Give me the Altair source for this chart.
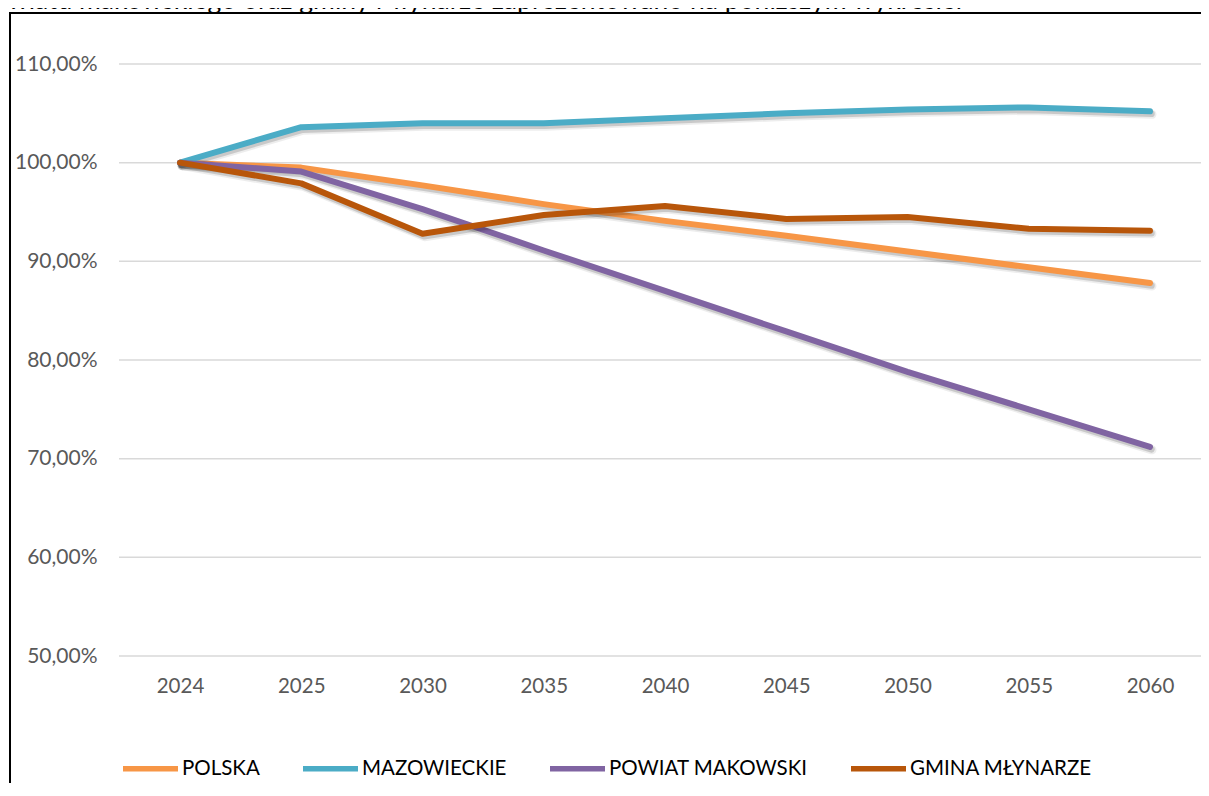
import altair as alt
import pandas as pd

years = ["2024", "2025", "2030", "2035", "2040", "2045", "2050", "2055", "2060"]
series_names = ["POLSKA", "MAZOWIECKIE", "POWIAT MAKOWSKI", "GMINA MŁYNARZE"]
polska = [100.0, 99.5, 97.7, 95.8, 94.1, 92.6, 91.0, 89.4, 87.8]
mazowieckie = [100.0, 103.6, 104.0, 104.0, 104.5, 105.0, 105.4, 105.6, 105.2]
powiat = [100.0, 99.1, 95.3, 91.1, 87.0, 82.9, 78.8, 75.0, 71.2]
gmina = [100.0, 97.9, 92.8, 94.7, 95.6, 94.3, 94.5, 93.3, 93.1]
colors = ["#F79646", "#4BACC6", "#8064A2", "#B8560A"]
y_ticks = [50, 60, 70, 80, 90, 100, 110]
caption = "powiatu makowskiego oraz gminy Młynarze zaprezentowano na poniższym wykresie."

FONT = "Lato"
W = 1082
H = 592
all_series = [polska, mazowieckie, powiat, gmina]
rows = []
for name, vals in zip(series_names, all_series):
    for yr, v in zip(years, vals):
        rows.append({"series": name, "year": yr, "value": v})
df = pd.DataFrame(rows)

x_enc = alt.X(
    "year:O",
    sort=years,
    scale=alt.Scale(type="point", domain=years, range=[61, 1031], padding=0),
    axis=alt.Axis(title=None, labelFont=FONT, labelFontSize=20.5, labelColor="#595959",
                  labelPadding=20, ticks=False, domain=False, grid=False, labelAngle=0),
)
y_scale = alt.Scale(domain=[50, 110], nice=False, zero=False)
y_axis = alt.Axis(title=None, values=y_ticks,
                  labelExpr="replace(format(datum.value, '.2f'), '.', ',') + '%'",
                  labelFont=FONT, labelFontSize=21, labelColor="#595959", labelPadding=22,
                  ticks=False, domain=False, grid=False)
y_enc = alt.Y("value:Q", scale=y_scale, axis=y_axis, title=None)
color_enc = alt.Color(
    "series:N",
    scale=alt.Scale(domain=series_names, range=colors),
    legend=alt.Legend(title=None, orient="none", legendX=1, legendY=674, direction="horizontal",
                      columns=4, symbolType="stroke", symbolSize=3025, symbolStrokeWidth=5.5,
                      labelFont=FONT, labelFontSize=20.5, labelColor="#000000", labelOffset=1,
                      labelLimit=400, columnPadding=32),
)

base = alt.Chart(df)
layers = []

# frame (left and top edges) and cropped caption (decoration)
deco = alt.Chart(pd.DataFrame({"t": [caption]}))
layers.append(
    deco.mark_rule(color="black", strokeWidth=2).encode(
        x=alt.value(-109), y=alt.value(-52), y2=alt.value(H + 200)
    )
)
layers.append(
    deco.mark_rule(color="black", strokeWidth=2).encode(
        x=alt.value(-110), x2=alt.value(W + 60), y=alt.value(-51)
    )
)
layers.append(
    deco.mark_text(align="right", baseline="alphabetic", font=FONT, fontSize=26.5, color="#000000").encode(
        x=alt.value(843), y=alt.value(-55.5), text="t:N"
    )
)

# horizontal gridlines
grid_df = pd.DataFrame({"value": y_ticks})
layers.append(
    alt.Chart(grid_df).mark_rule(color="#D9D9D9", strokeWidth=1.5).encode(
        y=y_enc, x=alt.value(0), x2=alt.value(W + 40)
    )
)

for name in series_names:
    sub = base.transform_filter(alt.datum.series == name)
    layers.append(
        sub.mark_line(strokeWidth=9, color="black", opacity=0.07, xOffset=2, yOffset=3,
                      strokeCap="round", strokeJoin="round").encode(x=x_enc, y=y_enc)
    )
    layers.append(
        sub.mark_line(strokeWidth=6.5, color="black", opacity=0.15, xOffset=1.5, yOffset=2.5,
                      strokeCap="round", strokeJoin="round").encode(x=x_enc, y=y_enc)
    )
    layers.append(
        sub.mark_line(strokeWidth=6, strokeCap="round", strokeJoin="round").encode(
            x=x_enc, y=y_enc, color=color_enc
        )
    )

chart = alt.layer(*layers).properties(
    width=W,
    height=H,
    autosize=alt.AutoSizeParams(type="none"),
    padding={"left": 111, "top": 56, "right": 0, "bottom": 127},
    background="white",
).configure_view(stroke=None)

chart.save("out.html", embed_options={"renderer": "svg", "actions": False})
